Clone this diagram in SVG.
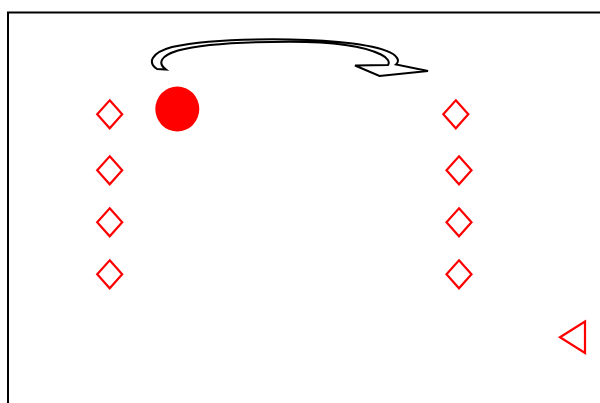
<svg xmlns="http://www.w3.org/2000/svg" width="600" height="403" viewBox="0 0 600 403">
<style>
.frame{fill:none;stroke:#000;stroke-width:2}
.dia{fill:none;stroke:#ff0000;stroke-width:2.2}
.arrow{fill:#fff;stroke:#000;stroke-width:2;stroke-linejoin:miter}
</style>
<defs>
<path id="d" d="M0,-14 L12.5,0 L0,14 L-12.5,0 Z"/>
</defs>
<rect width="600" height="403" fill="#fff"/>
<path class="frame" d="M8,404 L8,12.5 L601,12.5"/>
<g id="connectors">
<path id="turn-arrow" class="arrow" d="M157,69 C148,63 150,53 172,47 C205,40 255,39 290,39.5 C335,40 378,45 393,54 C399,58 399,62 396,64.5 L428,71 L379.5,76 L355,65.5 L388,65 C390,62 388,58 381,54.5 C363,45.5 330,41.7 290,41.7 C255,41.7 205,43 178,50.5 C161,55.5 157,63 166,69.5 Z"/>
</g>
<g id="ball"><ellipse cx="177.3" cy="109" rx="22" ry="22.5" fill="#ff0000"/></g>
<g id="left-1"><use href="#d" class="dia" x="109.7" y="114.3"/></g>
<g id="left-2"><use href="#d" class="dia" x="109.7" y="170.3"/></g>
<g id="left-3"><use href="#d" class="dia" x="109.7" y="222.3"/></g>
<g id="left-4"><use href="#d" class="dia" x="109.7" y="274.3"/></g>
<g id="right-1"><use href="#d" class="dia" x="455.8" y="114.3"/></g>
<g id="right-2"><use href="#d" class="dia" x="459" y="170.3"/></g>
<g id="right-3"><use href="#d" class="dia" x="459" y="222.3"/></g>
<g id="right-4"><use href="#d" class="dia" x="459" y="274.3"/></g>
<g id="cone"><path class="dia" d="M560,337.3 L585,321.5 L585,353 Z"/></g>
</svg>
